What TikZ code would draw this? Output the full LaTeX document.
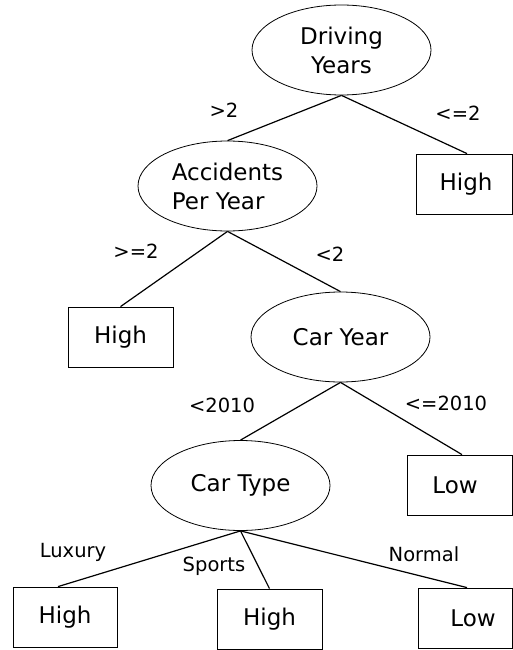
\documentclass[tikz,border=0pt]{standalone}
\usepackage{fontspec}
\setmainfont{DejaVu Sans}
\usetikzlibrary{shapes.geometric}
\begin{document}
\begin{tikzpicture}[x=1pt,y=-1pt,
  test/.style={ellipse,draw,line width=0.8pt,inner sep=0pt,
    minimum width=179pt,minimum height=90pt,align=center,
    font=\fontsize{23}{29}\selectfont},
  leaf/.style={rectangle,draw,line width=0.8pt,inner sep=0pt,
    minimum height=60pt,font=\fontsize{23}{29}\selectfont},
  edge/.style={line width=1.2pt},
  cond/.style={font=\fontsize{19.5}{24}\selectfont,inner sep=0pt}]
\useasboundingbox (0,0) rectangle (513,650);

% decision nodes
\node[test] (dy) at (341.5,50) {Driving\\Years};
\node[test,align=left] (acc) at (227.5,186) {Accidents\\Per Year};
\node[test] (cy) at (340.5,337) {Car Year};
\node[test] (ct) at (240.5,485.5) {Car Type};

% outcome leaves
\node[leaf,minimum width=96pt] (h1) at (464,184) {\hspace*{4pt}High};
\node[leaf,minimum width=105pt] (h2) at (120.5,337) {High};
\node[leaf,minimum width=105pt] (l1) at (459.5,485) {Low\hspace*{9pt}};
\node[leaf,minimum width=104pt] (h3) at (65,617) {High};
\node[leaf,minimum width=105pt] (h4) at (269.5,619) {High};
\node[leaf,minimum width=94pt] (l2) at (465,618) {\hspace*{16pt}Low};

% branches
\draw[edge] (dy.south) -- ([xshift=3pt]h1.north);
\draw[edge] (dy.south) -- (acc.north);
\draw[edge] (acc.south) -- (h2.north);
\draw[edge] (acc.south) -- (cy.north);
\draw[edge] (cy.south) -- (ct.north);
\draw[edge] (cy.south) -- ([xshift=2.5pt]l1.north);
\draw[edge] (ct.south) -- ([xshift=-7pt]h3.north);
\draw[edge] (ct.south) -- (h4.north);
\draw[edge] (ct.south) -- ([xshift=2pt]l2.north);

% branch conditions
\node[cond] (c1) at (224,110) {>2};
\node[cond] (c2) at (458,113) {<=2};
\node[cond] (c3) at (136,251) {>=2};
\node[cond] (c4) at (330,254) {<2};
\node[cond] (c5) at (222,405) {<2010};
\node[cond] (c6) at (446,403) {<=2010};
\node[cond] (c7) at (73,552) {Luxury};
\node[cond] (c8) at (214,566) {Sports};
\node[cond] (c9) at (424,554) {Normal};
\end{tikzpicture}
\end{document}
